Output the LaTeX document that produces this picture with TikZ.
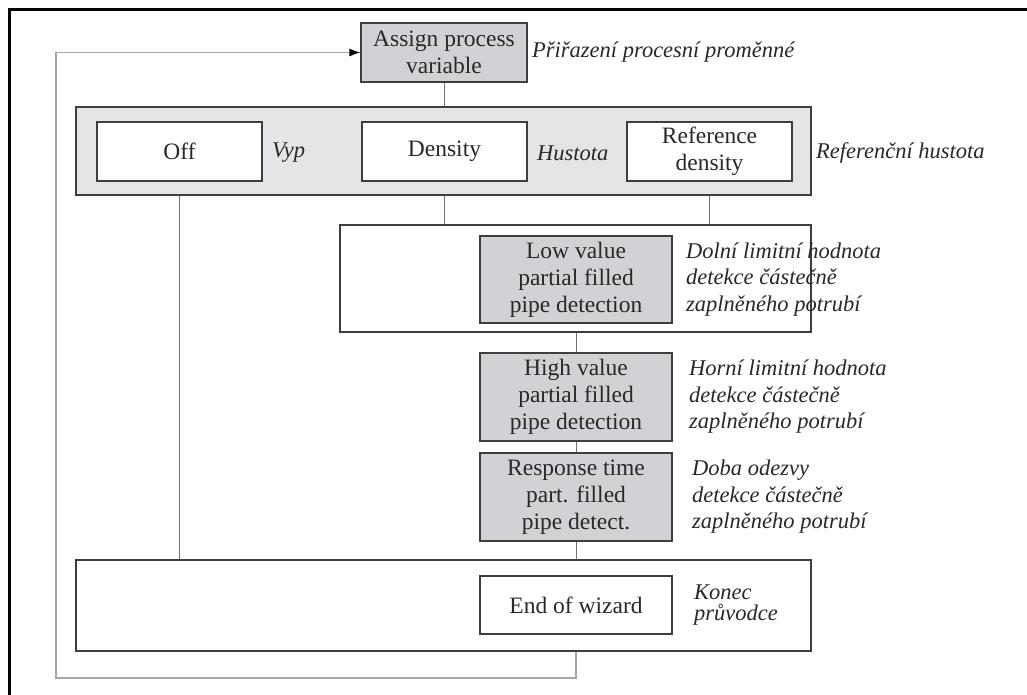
\documentclass[tikz,border=0pt]{standalone}
\usepackage{fontspec}
\setmainfont{Liberation Serif}
\usetikzlibrary{arrows.meta}
\definecolor{boxgray}{RGB}{210,210,214}
\definecolor{panelgray}{RGB}{229,229,232}
\definecolor{edgegray}{RGB}{62,62,62}
\definecolor{wiregray}{RGB}{115,115,115}
\definecolor{loopgray}{RGB}{165,165,165}
\definecolor{inkgray}{RGB}{40,40,40}
\tikzset{
  panel/.style={draw=edgegray, line width=1.3pt, inner sep=0pt},
  menu/.style={draw=edgegray, line width=1.3pt, align=center, inner sep=0pt,
    text=inkgray, font=\fontsize{23.5}{27}\selectfont},
  param/.style={menu, fill=boxgray},
  choice/.style={menu, fill=white},
  note/.style={anchor=west, align=left, inner sep=0pt, text=inkgray,
    font=\fontsize{22.5}{26.5}\selectfont\itshape},
  wire/.style={draw=wiregray, line width=1pt},
  backloop/.style={draw=loopgray, line width=1.2pt,
    -{Latex[length=11pt,width=8pt,color=black]}},
}
\begin{document}
\begin{tikzpicture}[x=1pt, y=-1pt]
\useasboundingbox (0,0) rectangle (1027,695);
\draw[line width=3pt] (1027,10) -- (9,10) -- (9,695);

\node[panel, fill=panelgray, minimum width=735, minimum height=88] (grp1) at (443.5,151) {};
\node[panel, fill=white, minimum width=471, minimum height=107] (grp2) at (575.5,278.5) {};
\node[panel, fill=white, minimum width=735, minimum height=91] (grp3) at (443.5,605.5) {};

\node[param, minimum width=166, minimum height=59] (assign) at (444,52.5) {Assign process\\variable};
\node[note] (assign-cz) at (532,52.5) {Přiřazení procesní proměnné};

\node[choice, minimum width=165, minimum height=59] (off) at (179.5,151.5) {Off};
\node[note] (off-cz) at (272,153) {Vyp};
\node[choice, minimum width=165, minimum height=59] (dens) at (444.5,151.5) {Density};
\node[note] (dens-cz) at (537,153) {Hustota};
\node[choice, minimum width=165, minimum height=59] (refd) at (709.5,151.5) {Reference\\density};
\node[note] (refd-cz) at (816,153) {Referenční hustota};

\node[param, minimum width=192, minimum height=87] (low) at (576,279.5) {Low value\\partial filled\\pipe detection};
\node[note] (low-cz) at (686,279.5) {Dolní limitní hodnota\\detekce částečně\\zaplněného potrubí};
\node[param, minimum width=192, minimum height=88] (high) at (576,397) {High value\\partial filled\\pipe detection};
\node[note] (high-cz) at (689,397) {Horní limitní hodnota\\detekce částečně\\zaplněného potrubí};
\node[param, minimum width=192, minimum height=88] (resp) at (576,497) {Response time\\part. filled\\pipe detect.};
\node[note] (resp-cz) at (692,497) {Doba odezvy\\detekce částečně\\zaplněného potrubí};

\node[choice, minimum width=192, minimum height=58] (endw) at (576,605) {End of wizard};
\node[note, font=\fontsize{22.5}{21}\selectfont\itshape] (endw-cz) at (694,605) {Konec\\průvodce};

\draw[wire] (assign) -- (assign |- grp1.north);
\draw[wire] (grp1.south -| off) -- (grp3.north -| off);
\draw[wire] (grp1.south -| dens) -- (grp2.north -| dens);
\draw[wire] (grp1.south -| refd) -- (grp2.north -| refd);
\draw[wire] (grp2.south -| high) -- (high);
\draw[wire] (high) -- (resp);
\draw[wire] (resp) -- (resp |- grp3.north);

\coordinate (back) at (56,678);
\draw[backloop] (endw |- grp3.south) |- (back) |- (assign);
\end{tikzpicture}
\end{document}
